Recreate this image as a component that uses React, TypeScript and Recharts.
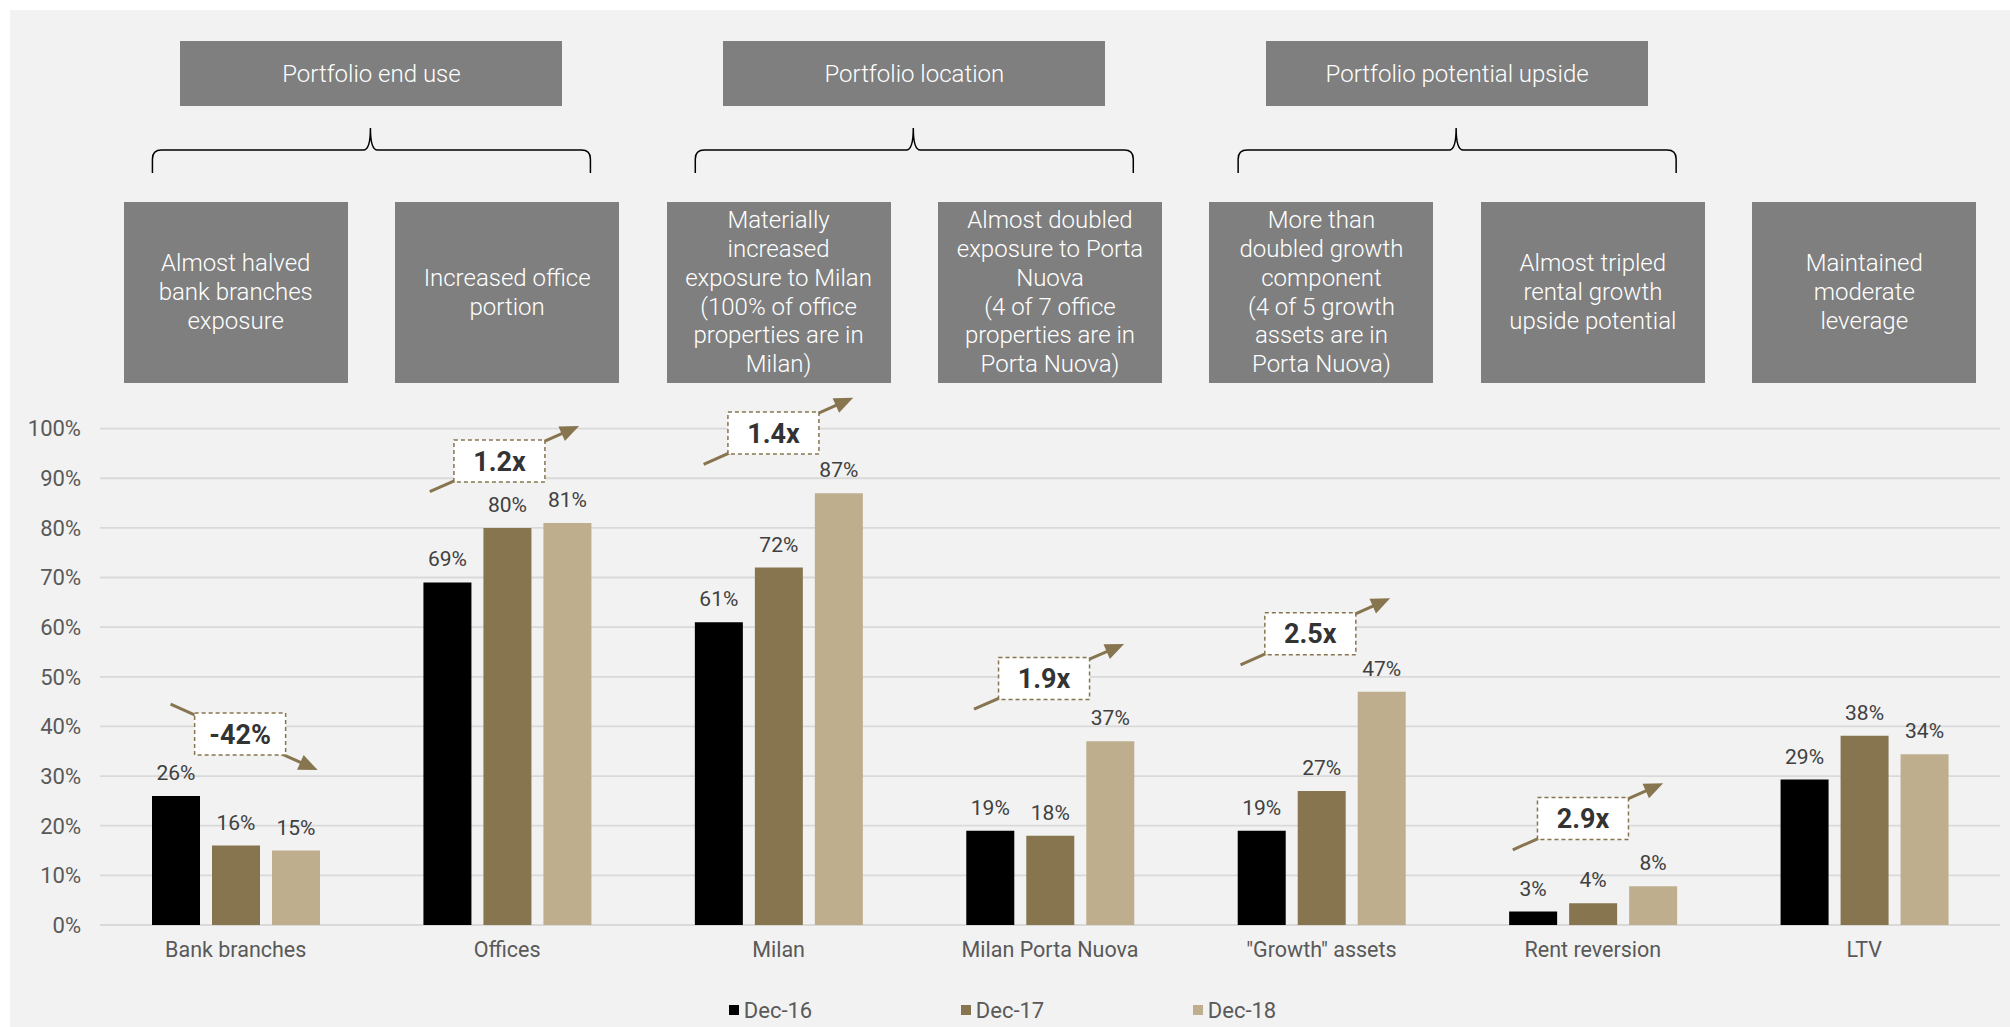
import React from 'react';
import { BarChart, Bar, XAxis, YAxis, CartesianGrid, LabelList, Legend, ReferenceLine } from 'recharts';

// ---------- data ----------
const categories = ['Bank branches', 'Offices', 'Milan', 'Milan Porta Nuova', '"Growth" assets', 'Rent reversion', 'LTV'];
const dec16 = [26, 69, 61, 19, 19, 2.7, 29.3];
const dec17 = [16, 80, 72, 18, 27, 4.4, 38.1];
const dec18 = [15, 81, 87, 37, 47, 7.8, 34.4];
const seriesKeys = ['dec16', 'dec17', 'dec18'];
const seriesNames = ['Dec-16', 'Dec-17', 'Dec-18'];
const seriesColors = ['#000000', '#87754F', '#BFAE8E'];
const yTicks = [0, 10, 20, 30, 40, 50, 60, 70, 80, 90, 100];

const groupTitles = ['Portfolio end use', 'Portfolio location', 'Portfolio potential upside'];
const groupFirstCategory = [0, 2, 4];
const boxLines = [
  ['Almost halved', 'bank branches', 'exposure'],
  ['Increased office', 'portion'],
  ['Materially', 'increased', 'exposure to Milan', '(100% of office', 'properties are in', 'Milan)'],
  ['Almost doubled', 'exposure to Porta', 'Nuova', '(4 of 7 office', 'properties are in', 'Porta Nuova)'],
  ['More than', 'doubled growth', 'component', '(4 of 5 growth', 'assets are in', 'Porta Nuova)'],
  ['Almost tripled', 'rental growth', 'upside potential'],
  ['Maintained', 'moderate', 'leverage'],
];

// annotation arrows in (category slot position, value %) space
const annoLabels = ['-42%', '1.2x', '1.4x', '1.9x', '2.5x', '2.9x'];
const annoFromX = [0.26, 1.215, 2.224, 3.22, 4.202, 5.205];
const annoFromY = [44.5, 87.3, 92.8, 43.5, 52.4, 15.15];
const annoToX = [0.802, 1.765, 2.775, 3.773, 4.753, 5.759];
const annoToY = [31.2, 100.5, 106.2, 56.6, 65.8, 28.55];

const data = categories.map((c, i) => ({ category: c, slot: i + 0.5, dec16: dec16[i], dec17: dec17[i], dec18: dec18[i] }));

// ---------- layout ----------
const W = 2010;
const H = 1027;
const PLOT_LEFT = 100;
const PLOT_RIGHT = 2000;
const BAND = (PLOT_RIGHT - PLOT_LEFT) / categories.length;
const FONT = 'Roboto, "Liberation Sans", Arial, sans-serif';
const BROWN = '#87754F';

const catCenter = (i: number) => PLOT_LEFT + BAND * (i + 0.5);

const makeArrowShape = (label: string) => (props: any) => {
  const { x1, y1, x2, y2 } = props;
  const ang = Math.atan2(y2 - y1, x2 - x1);
  const c = Math.cos(ang);
  const s = Math.sin(ang);
  const L = 19;
  const HW = 8;
  const bx = x2 - L * c;
  const by = y2 - L * s;
  const pts = `${x2},${y2} ${bx + HW * s},${by - HW * c} ${bx - HW * s},${by + HW * c}`;
  const up = y2 < y1;
  const mx = (x1 + x2) / 2 - (up ? 5 : 4);
  const my = (y1 + y2) / 2 + (up ? 2 : -3);
  return (
    <g>
      <line x1={x1} y1={y1} x2={bx + 2 * c} y2={by + 2 * s} stroke={BROWN} strokeWidth={3} />
      <polygon points={pts} fill={BROWN} />
      <rect x={mx - 45.5} y={my - 21} width={91} height={42} fill="#ffffff" stroke={BROWN} strokeWidth={1.5} strokeDasharray="4 3" />
      <text x={mx} y={my} dy="0.36em" textAnchor="middle" fontFamily={FONT} fontSize={27} fontWeight={700} fill="#333333">
        {label}
      </text>
    </g>
  );
};

const renderLegend = () => (
  <div style={{ display: 'flex', justifyContent: 'center', alignItems: 'center', height: 34, fontFamily: FONT, fontSize: 22, color: '#595959', paddingRight: 5 }}>
    {seriesNames.map((n, i) => (
      <div key={n} style={{ display: 'flex', alignItems: 'center', width: i < seriesNames.length - 1 ? 232 : 'auto' }}>
        <span style={{ display: 'inline-block', width: 10, height: 10, background: seriesColors[i], marginRight: 5 }} />
        <span>{n}</span>
      </div>
    ))}
  </div>
);

const bracePath = (xl: number, xr: number, xc: number) => {
  const yTip = 128;
  const yMid = 150;
  const yEnd = 173;
  return `M ${xl} ${yEnd} L ${xl} ${yMid + 9} Q ${xl} ${yMid} ${xl + 9} ${yMid} L ${xc - 7} ${yMid} Q ${xc} ${yMid} ${xc} ${yTip} Q ${xc} ${yMid} ${xc + 7} ${yMid} L ${xr - 9} ${yMid} Q ${xr} ${yMid} ${xr} ${yMid + 9} L ${xr} ${yEnd}`;
};

export default function App() {
  return (
    <div style={{ position: 'absolute', left: 0, top: 0, width: W, height: H, background: '#ffffff', overflow: 'hidden' }}>
      <div style={{ position: 'absolute', left: 10, top: 10, width: W - 10, height: H - 10, background: '#f2f2f2' }} />

      {/* braces */}
      <svg style={{ position: 'absolute', left: 0, top: 0 }} width={W} height={200}>
        {groupFirstCategory.map((g) => {
          const xc = (catCenter(g) + catCenter(g + 1)) / 2;
          return <path key={g} d={bracePath(xc - 219, xc + 219, xc - 1)} fill="none" stroke="#000000" strokeWidth={1.5} />;
        })}
      </svg>

      {/* top group titles */}
      {groupTitles.map((t, k) => {
        const xc = (catCenter(groupFirstCategory[k]) + catCenter(groupFirstCategory[k] + 1)) / 2;
        return (
          <div key={t} style={{ position: 'absolute', left: xc - 191, top: 41, width: 382, height: 65, background: '#7f7f7f', color: '#ffffff', fontFamily: FONT, fontWeight: 300, fontSize: 24, display: 'flex', alignItems: 'center', justifyContent: 'center' }}>
            {t}
          </div>
        );
      })}

      {/* per-category boxes */}
      {boxLines.map((lines, i) => (
        <div key={i} style={{ position: 'absolute', left: catCenter(i) - 112, top: 202, width: 224, height: 181, background: '#7f7f7f', color: '#ffffff', fontFamily: FONT, fontWeight: 300, fontSize: 24, lineHeight: '28.8px', display: 'flex', flexDirection: 'column', alignItems: 'center', justifyContent: 'center', textAlign: 'center' }}>
          {lines.map((l, j) => (
            <div key={j} style={{ whiteSpace: 'nowrap' }}>{l}</div>
          ))}
        </div>
      ))}

      <div style={{ position: 'absolute', left: 0, top: 0 }}>
        <BarChart width={W} height={H} data={data} margin={{ top: 428.6, right: W - PLOT_RIGHT, bottom: 0, left: 10 }} barSize={48} barGap={12}>
          <CartesianGrid vertical={false} stroke="#d9d9d9" strokeWidth={1.8} />
          <XAxis xAxisId="cat" dataKey="category" tickLine={false} axisLine={false} tickSize={0} tickMargin={17} height={68} interval={0} tick={{ fill: '#595959', fontSize: 21.5, fontFamily: FONT }} />
          <XAxis xAxisId="pos" dataKey="slot" type="number" scale="linear" domain={[0, categories.length]} allowDataOverflow hide />
          <YAxis width={90} domain={[0, 100]} ticks={yTicks} tickFormatter={(v: number) => `${v}%`} tickLine={false} axisLine={false} tickSize={0} tickMargin={19} tick={{ fill: '#595959', fontSize: 22, fontFamily: FONT }} />
          <Legend verticalAlign="bottom" height={34} content={renderLegend} wrapperStyle={{ left: 0, bottom: 0, width: W, height: 34 }} />
          {seriesKeys.map((k, i) => (
            <Bar key={k} xAxisId="cat" dataKey={k} name={seriesNames[i]} fill={seriesColors[i]} isAnimationActive={false}>
              <LabelList dataKey={k} position="top" offset={16} formatter={(v: any) => `${Math.round(Number(v))}%`} fill="#404040" fontSize={21} fontFamily={FONT} />
            </Bar>
          ))}
          {annoLabels.map((lab, i) => (
            <ReferenceLine
              key={lab}
              xAxisId="pos"
              ifOverflow="visible"
              segment={[{ x: annoFromX[i], y: annoFromY[i] }, { x: annoToX[i], y: annoToY[i] }]}
              stroke={BROWN}
              shape={makeArrowShape(lab)}
            />
          ))}
        </BarChart>
      </div>
    </div>
  );
}
